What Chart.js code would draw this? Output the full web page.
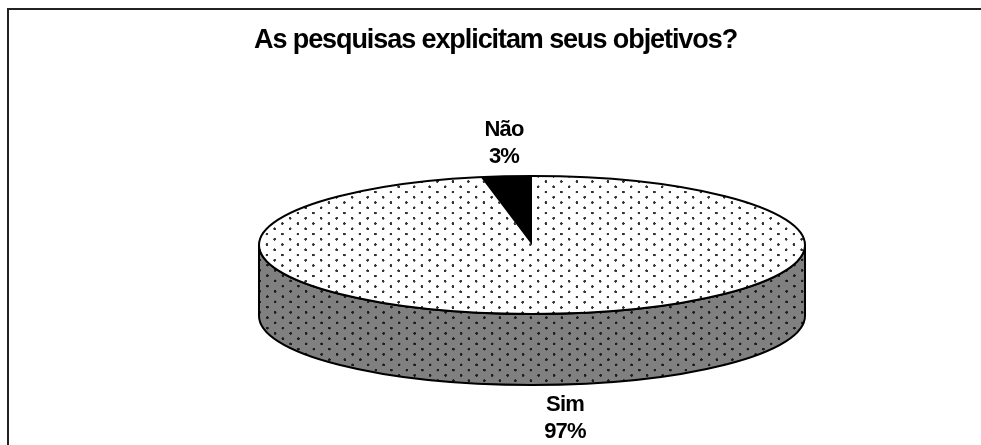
<!DOCTYPE html>
<html>
<head>
<meta charset="utf-8">
<style>
html,body{margin:0;padding:0;background:#fff;overflow:hidden}
#wrap{position:absolute;left:0;top:0;width:981px;height:445px}
</style>
<script src="https://cdn.jsdelivr.net/npm/chart.js@4"></script>
</head>
<body>
<div id="wrap"><canvas id="c" width="981" height="445"></canvas></div>
<script>
const titleText = 'As pesquisas explicitam seus objetivos?';
const categories = ['Sim', 'Não'];
const shareValues = [97, 3];

const FONT = '"Liberation Sans", Arial, sans-serif';
const pieCentre = {x: 532, y: 245};
const radiusX = 273, radiusY = 69, wallDepth = 71;
const tileW = 15.4, tileH = 10.6;

function dotPattern(bg, dot) {
  const s = 4;
  const t = document.createElement('canvas');
  t.width = Math.round(tileW * s); t.height = Math.round(tileH * s);
  const g = t.getContext('2d');
  if (bg) { g.fillStyle = bg; g.fillRect(0, 0, t.width, t.height); }
  g.fillStyle = dot;
  [[0.25, 0.25], [0.75, 0.75]].forEach(p => {
    g.beginPath();
    g.arc(p[0] * t.width, p[1] * t.height, 1.35 * s, 0, Math.PI * 2);
    g.fill();
  });
  const pat = document.createElement('canvas').getContext('2d').createPattern(t, 'repeat');
  pat._s = s;
  return pat;
}
const topPattern = dotPattern('#ffffff', '#333333');
const wallPattern = dotPattern('#808080', '#1c1c1c');

const ellipsePie = {
  id: 'ellipsePie',
  beforeDraw(chart) {
    const ctx = chart.ctx;
    ctx.letterSpacing = '-1.08px';
    ctx.fillStyle = '#fff';
    ctx.fillRect(0, 0, chart.width, chart.height);
    ctx.save();
    ctx.strokeStyle = '#222';
    ctx.lineWidth = 2;
    ctx.beginPath();
    ctx.moveTo(8, chart.height);
    ctx.lineTo(8, 9);
    ctx.lineTo(chart.width, 9);
    ctx.stroke();
    ctx.restore();
  },
  beforeDatasetsDraw(chart) {
    const ctx = chart.ctx;
    const arc = chart.getDatasetMeta(0).data[0];
    const R = arc.outerRadius;
    const sx = radiusX / R, sy = radiusY / R;
    // side wall, in page space
    ctx.save();
    wallPattern.setTransform(new DOMMatrix().scale(1 / wallPattern._s, 1 / wallPattern._s));
    ctx.beginPath();
    ctx.ellipse(pieCentre.x, pieCentre.y, radiusX, radiusY, 0, 0, Math.PI);
    ctx.lineTo(pieCentre.x - radiusX, pieCentre.y + wallDepth);
    ctx.ellipse(pieCentre.x, pieCentre.y + wallDepth, radiusX, radiusY, 0, Math.PI, 0, true);
    ctx.closePath();
    ctx.fillStyle = wallPattern;
    ctx.fill();
    ctx.lineWidth = 2;
    ctx.strokeStyle = '#000';
    ctx.stroke();
    ctx.restore();
    // flatten the library's own arcs into the ellipse
    topPattern.setTransform(new DOMMatrix().scale(1 / sx / topPattern._s, 1 / sy / topPattern._s));
    ctx.save();
    ctx.translate(pieCentre.x, pieCentre.y);
    ctx.scale(sx, sy);
    ctx.translate(-arc.x, -arc.y);
  },
  afterDatasetsDraw(chart) {
    const ctx = chart.ctx;
    ctx.restore();
    ctx.save();
    ctx.beginPath();
    ctx.ellipse(pieCentre.x, pieCentre.y, radiusX, radiusY, 0, 0, Math.PI * 2);
    ctx.lineWidth = 2;
    ctx.strokeStyle = '#000';
    ctx.stroke();
    ctx.restore();
    // category and share labels
    const total = shareValues.reduce((a, b) => a + b, 0);
    ctx.save();
    ctx.fillStyle = '#000';
    ctx.font = 'bold 22px ' + FONT;
    ctx.letterSpacing = '-0.8px';
    ctx.textAlign = 'center';
    ctx.textBaseline = 'middle';
    const spots = [{x: 565, y: 405}, {x: 504, y: 130}];
    categories.forEach((name, i) => {
      const p = spots[i];
      ctx.fillText(name, p.x, p.y);
      ctx.fillText(Math.round(shareValues[i] / total * 100) + '%', p.x, p.y + 27);
    });
    ctx.restore();
  }
};

new Chart(document.getElementById('c'), {
  type: 'pie',
  data: {
    labels: categories,
    datasets: [{
      data: shareValues,
      backgroundColor: [topPattern, '#000000'],
      borderWidth: 0,
      clip: false
    }]
  },
  options: {
    responsive: false,
    animation: false,
    events: [],
    layout: {padding: {left: 10}},
    plugins: {
      legend: {display: false},
      tooltip: {enabled: false},
      title: {
        display: true,
        text: titleText,
        color: '#000',
        font: {family: FONT, size: 27, weight: 'bold'},
        padding: {top: 24, bottom: 20}
      }
    }
  },
  plugins: [ellipsePie]
});
</script>
</body>
</html>
